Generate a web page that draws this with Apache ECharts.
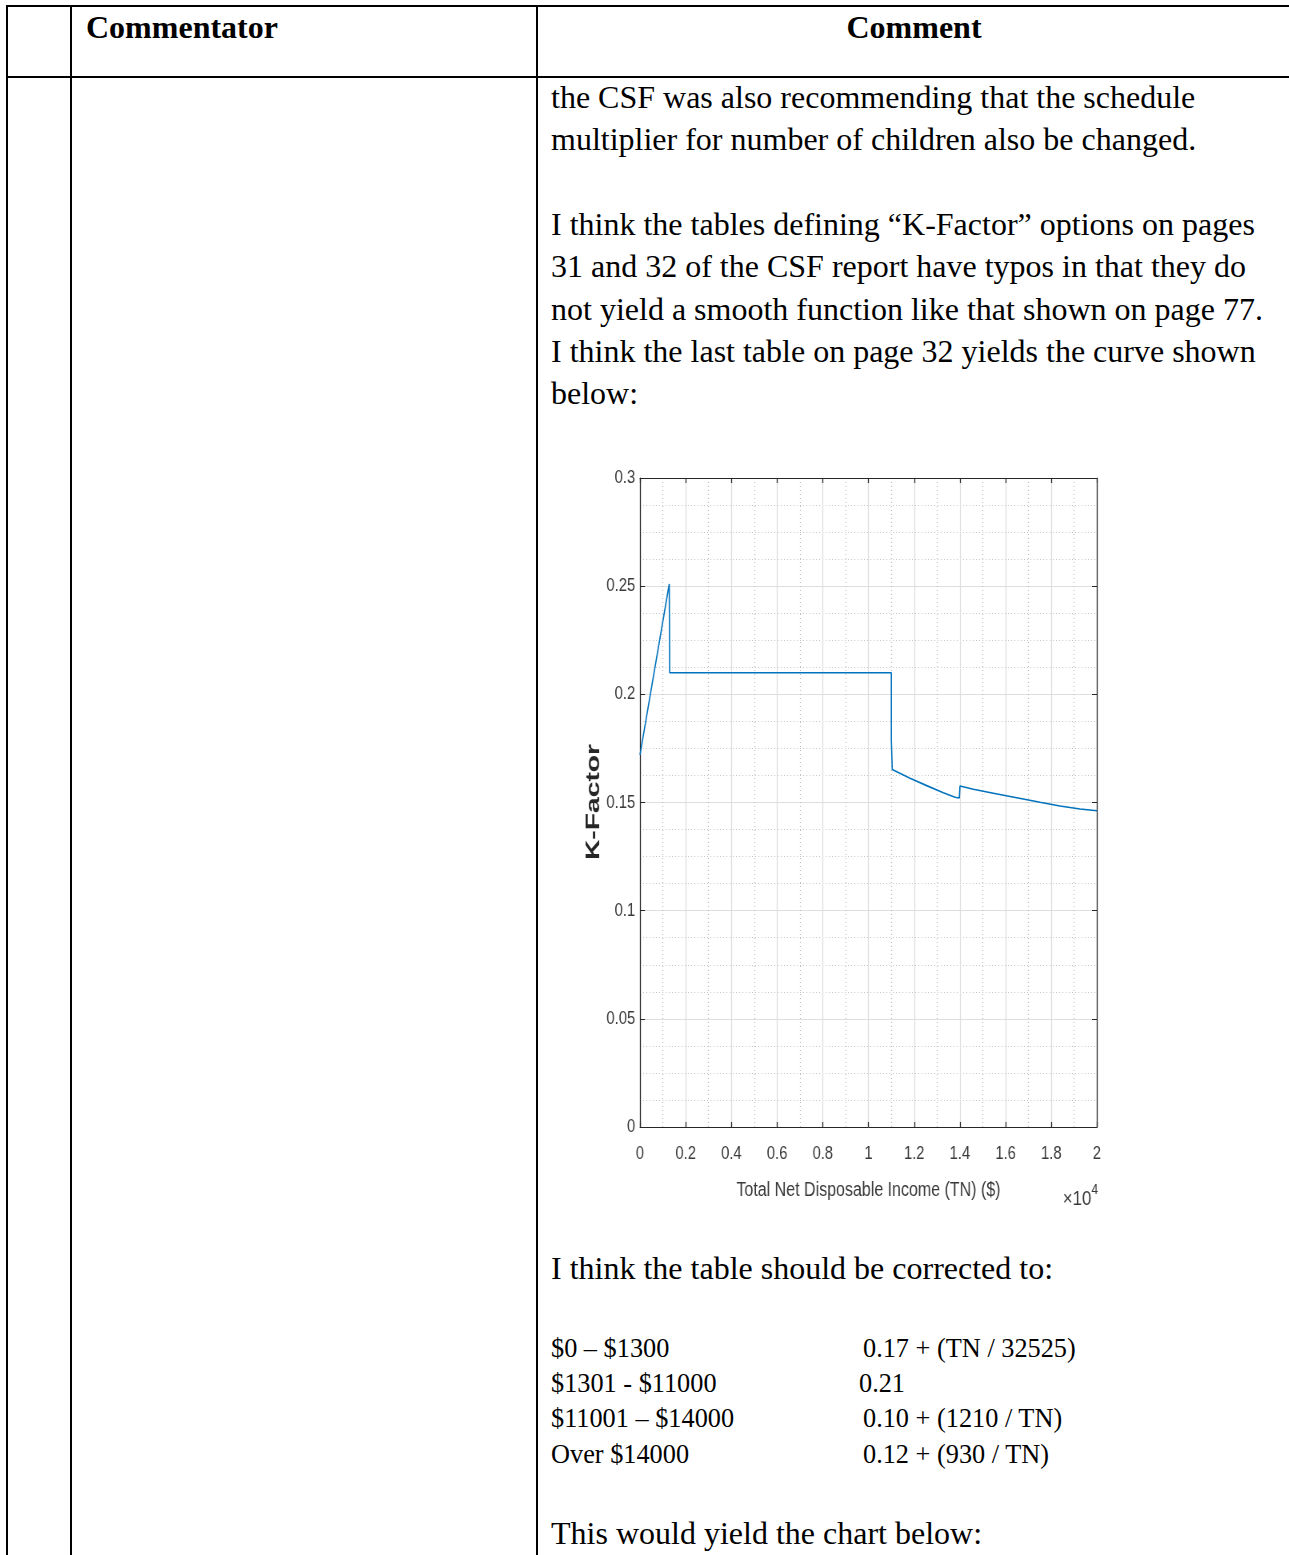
<!DOCTYPE html>
<html>
<head>
<meta charset="utf-8">
<script src="https://cdn.jsdelivr.net/npm/echarts@6/dist/echarts.min.js"></script>
<style>
  html, body { margin: 0; padding: 0; background: #fff; }
  body { width: 1289px; height: 1555px; position: relative; overflow: hidden; }
  .rule { position: absolute; background: #000; }
  .t { position: absolute; white-space: nowrap; color: #000;
       font-family: 'Liberation Serif', 'Times New Roman', serif;
       font-size: 32px; line-height: 42px; }
  .h { font-weight: bold; }
  .row { font-size: 26.3px; line-height: 35px; }
  /* the figure in the document is squeezed sideways, so the chart is drawn wider and narrowed */
  #k-factor-chart { position: absolute; left: 540px; top: 440px; width: 750px; height: 800px;
                    transform: scaleX(0.8); transform-origin: 0 0; }
</style>
</head>
<body>
  <!-- table rules -->
  <div class="rule" style="left:6px; top:5px; width:1283px; height:2px;"></div>
  <div class="rule" style="left:6px; top:76px; width:1283px; height:2px;"></div>
  <div class="rule" style="left:6px; top:5px; width:2px; height:1550px;"></div>
  <div class="rule" style="left:70px; top:5px; width:2px; height:1550px;"></div>
  <div class="rule" style="left:536px; top:5px; width:2px; height:1550px;"></div>

  <div class="t h" style="left:86px; top:6px;">Commentator</div>
  <div class="t h" style="left:537px; width:754px; text-align:center; top:6px;">Comment</div>

  <div class="t" style="left:551px; top:76px;">the CSF was also recommending that the schedule</div>
  <div class="t" style="left:551px; top:118px;">multiplier for number of children also be changed.</div>
  <div class="t" style="left:551px; top:203px;">I think the tables defining “K-Factor” options on pages</div>
  <div class="t" style="left:551px; top:245px;">31 and 32 of the CSF report have typos in that they do</div>
  <div class="t" style="left:551px; top:288px;">not yield a smooth function like that shown on page 77.</div>
  <div class="t" style="left:551px; top:330px;">I think the last table on page 32 yields the curve shown</div>
  <div class="t" style="left:551px; top:372px;">below:</div>

  <div id="k-factor-chart"></div>

  <div class="t" style="left:551px; top:1247px;">I think the table should be corrected to:</div>
  <div class="t row" style="left:551px; top:1331px;">$0 – $1300</div>
  <div class="t row" style="left:863px; top:1331px;">0.17 + (TN / 32525)</div>
  <div class="t row" style="left:551px; top:1366px;">$1301 - $11000</div>
  <div class="t row" style="left:859px; top:1366px;">0.21</div>
  <div class="t row" style="left:551px; top:1401px;">$11001 – $14000</div>
  <div class="t row" style="left:863px; top:1401px;">0.10 + (1210 / TN)</div>
  <div class="t row" style="left:551px; top:1437px;">Over $14000</div>
  <div class="t row" style="left:863px; top:1437px;">0.12 + (930 / TN)</div>
  <div class="t" style="left:551px; top:1512px;">This would yield the chart below:</div>

<script>
// curve: TN in dollars, K-Factor value
const incomeTN = [0, 1280, 1300, 1300, 11000, 11000, 11040, 11816, 12547, 13275, 13786, 13975,
  14004, 14588, 15463, 16486, 17505, 18381, 19256, 20000];
const kFactor = [0.172, 0.251, 0.251, 0.21, 0.21, 0.179, 0.1653, 0.1612, 0.1578, 0.1545, 0.1524, 0.1521,
  0.1576, 0.1561, 0.1543, 0.1522, 0.1501, 0.1484, 0.147, 0.1462];

const xTicks = [0, 0.2, 0.4, 0.6, 0.8, 1, 1.2, 1.4, 1.6, 1.8, 2];
const yTicks = [0, 0.05, 0.1, 0.15, 0.2, 0.25, 0.3];

const squeeze = 0.8;  // matches the css scaleX above
const axisColor = '#262626';
const labelColor = '#3a3a3a';
const labelFont = "'Liberation Sans', Arial, sans-serif";

const chart = echarts.init(document.getElementById('k-factor-chart'));

const frameX = {
  axisLine: { show: true, onZero: false, lineStyle: { color: axisColor, width: 1 } },
  axisTick: { show: true, inside: true, length: 5, lineStyle: { color: axisColor, width: 1 / squeeze } },
  axisLabel: { show: false },
  splitLine: { show: false }
};
const frameY = {
  axisLine: { show: true, onZero: false, lineStyle: { color: axisColor, width: 1 / squeeze } },
  axisTick: { show: true, inside: true, length: 5 / squeeze, lineStyle: { color: axisColor } },
  axisLabel: { show: false },
  splitLine: { show: false }
};

chart.setOption({
  animation: false,
  backgroundColor: '#fff',
  grid: { left: 100 / squeeze, top: 38, width: 457 / squeeze, height: 649, containLabel: false },
  xAxis: [
    Object.assign({}, frameX, {
      type: 'value',
      min: 0,
      max: 20000,
      interval: 2000,
      position: 'bottom',
      minorTick: { show: false, splitNumber: 2 },
      axisLabel: {
        margin: 17,
        fontSize: 18.5,
        color: labelColor,
        fontFamily: labelFont,
        formatter: v => String(xTicks[Math.round(v / 2000)])
      },
      splitLine: { show: true, lineStyle: { color: '#dedede', width: 1 / squeeze } },
      minorSplitLine: { show: true, lineStyle: { color: '#bdbdbd', type: [1, 3], width: 1 / squeeze } },
      name: 'Total Net Disposable Income (TN) ($)',
      nameLocation: 'middle',
      nameGap: 53,
      nameTextStyle: { fontSize: 20, color: labelColor, fontFamily: labelFont }
    }),
    Object.assign({ type: 'value', min: 0, max: 20000, interval: 2000, position: 'top' }, frameX)
  ],
  yAxis: [
    Object.assign({}, frameY, {
      type: 'value',
      min: 0,
      max: 0.3,
      interval: 0.05,
      position: 'left',
      minorTick: { show: false, splitNumber: 4 },
      axisLabel: {
        margin: 6,
        fontSize: 18.5,
        color: labelColor,
        fontFamily: labelFont,
        formatter: v => String(yTicks[Math.round(v / 0.05)])
      },
      splitLine: { show: true, lineStyle: { color: '#dedede', width: 1 } },
      minorSplitLine: { show: true, lineStyle: { color: '#bdbdbd', type: [1, 3], width: 1 } }
    }),
    Object.assign({ type: 'value', min: 0, max: 0.3, interval: 0.05, position: 'right' }, frameY)
  ],
  graphic: [
    {
      type: 'text',
      x: 54 / squeeze,
      y: 362,
      rotation: Math.PI / 2,
      scaleX: 1.57,
      scaleY: 1.3,
      style: {
        text: 'K-Factor',
        font: "bold 18px 'Liberation Sans', Arial, sans-serif",
        fill: '#262626',
        align: 'center',
        verticalAlign: 'middle'
      }
    },
    {
      type: 'text',
      x: 558 / squeeze,
      y: 756,
      style: {
        text: '{a|×10}{b|4}',
        align: 'right',
        verticalAlign: 'middle',
        rich: {
          a: { fontSize: 21, fontFamily: labelFont, fill: labelColor, verticalAlign: 'bottom' },
          b: { fontSize: 15, fontFamily: labelFont, fill: labelColor, verticalAlign: 'top', padding: [0, 0, 12, 0] }
        }
      }
    }
  ],
  series: [
    {
      type: 'line',
      xAxisIndex: 0,
      yAxisIndex: 0,
      symbol: 'none',
      data: incomeTN.map((tn, i) => [tn, kFactor[i]]),
      lineStyle: { color: '#0072BD', width: 1.6 },
      itemStyle: { color: '#0072BD' }
    }
  ]
});
</script>
</body>
</html>
